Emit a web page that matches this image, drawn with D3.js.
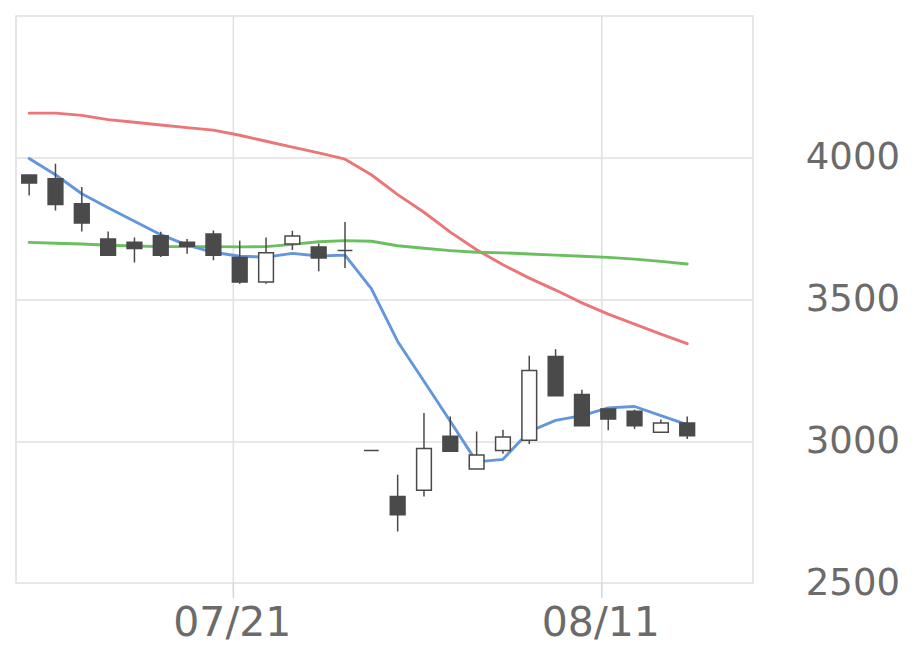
<!DOCTYPE html>
<html>
<head>
<meta charset="utf-8">
<script src="https://cdn.jsdelivr.net/npm/d3@7"></script>
<style>
  html, body { margin: 0; padding: 0; background: #ffffff; }
  svg { display: block; }
</style>
</head>
<body>
<svg id="chart" width="920" height="669"></svg>
<script>
// ---- data ----
const dates = ["07/09","07/12","07/13","07/14","07/15","07/16","07/19","07/20","07/21","07/22",
               "07/26","07/27","07/28","07/29","07/30","08/02","08/03","08/04","08/05","08/06",
               "08/09","08/10","08/11","08/12","08/13","08/16","08/17","08/18"];
const openV  = [3940,3927,3839,3715,3703,3726,3703,3732,3650,3563,3697,3687,3674,2970,2808,2830,3020,2905,2970,3006,3301,3167,3116,3108,3034,3067];
const highV  = [3940,3980,3898,3741,3720,3740,3715,3745,3709,3720,3744,3699,3775,2970,2885,3102,3090,3037,3043,3304,3327,3184,3116,3114,3079,3090];
const lowV   = [3868,3815,3741,3658,3632,3651,3663,3640,3557,3557,3676,3601,3613,2970,2685,2808,2967,2905,2959,2993,3163,3057,3041,3046,3034,3011];
const closeV = [3912,3836,3771,3658,3681,3658,3689,3658,3563,3666,3725,3648,3674,2970,2744,2977,2967,2954,3018,3252,3163,3057,3081,3057,3067,3022];
const ma5    = [3998,3941,3874,3825,3777,3730,3693,3668,3654,3651,3664,3655,3658,3540,3354,3214,3073,2930,2939,3037,3076,3093,3120,3125,3093,3061];
const ma25   = [4158,4158,4150,4135,4126,4116,4107,4098,4080,4059,4038,4018,3996,3941,3871,3809,3739,3677,3624,3577,3535,3490,3450,3415,3380,3346];
const ma75   = [3703,3700,3697,3693,3690,3688,3688,3688,3687,3688,3696,3705,3709,3707,3691,3682,3674,3668,3666,3662,3658,3654,3650,3644,3636,3627];
const xTickLabels = ["07/21","08/11"];
const yTickValues = [2500,3000,3500,4000];

// ---- layout ----
const plot = {left: 16, right: 753, top: 16, bottom: 583};
const svg = d3.select("#chart");

const x = d3.scaleBand().domain(dates).range([plot.left, plot.right]).padding(0);
const step = x.step();
const cx = i => x(dates[i]) + step / 2;
const y = d3.scaleLinear().domain([2500, 4500]).range([584, 16]);

// gridlines
const grid = svg.append("g");
grid.selectAll("line.h").data(yTickValues.filter(v => v > 2500)).join("line")
  .attr("x1", plot.left).attr("x2", plot.right)
  .attr("y1", d => y(d)).attr("y2", d => y(d))
  .attr("stroke", "#e0e0e0").attr("stroke-width", 1.5);
grid.selectAll("line.v").data(xTickLabels).join("line")
  .attr("x1", d => x(d) + step * 0.257).attr("x2", d => x(d) + step * 0.257)
  .attr("y1", plot.top).attr("y2", plot.bottom)
  .attr("stroke", "#e0e0e0").attr("stroke-width", 1.5);

// plot border
svg.append("rect")
  .attr("x", plot.left).attr("y", plot.top)
  .attr("width", plot.right - plot.left).attr("height", plot.bottom - plot.top)
  .attr("fill", "none").attr("stroke", "#e0e0e0").attr("stroke-width", 1.5);

// x tick marks
svg.append("g").selectAll("line").data(xTickLabels).join("line")
  .attr("x1", d => x(d) + step * 0.257).attr("x2", d => x(d) + step * 0.257)
  .attr("y1", plot.bottom).attr("y2", plot.bottom + 15)
  .attr("stroke", "#ccd6eb").attr("stroke-width", 1.5);

// x labels
svg.append("g").selectAll("text").data(xTickLabels).join("text")
  .attr("x", d => x(d) + step * 0.257 - 1)
  .attr("y", 636)
  .attr("text-anchor", "middle")
  .attr("font-family", "DejaVu Sans, sans-serif")
  .attr("font-size", 41)
  .attr("fill", "#6b6b6b")
  .text(d => d);

// y labels
svg.append("g").selectAll("text").data(yTickValues).join("text")
  .attr("x", 900)
  .attr("y", d => y(d) - 2)
  .attr("dy", "0.36em")
  .attr("text-anchor", "end")
  .attr("font-family", "DejaVu Sans, sans-serif")
  .attr("font-size", 37)
  .attr("fill", "#6b6b6b")
  .text(d => d);

// moving averages
const lineGen = d3.line().x((d, i) => cx(i)).y(d => y(d));
[[ma25, "#ea7677"], [ma75, "#6abf5e"], [ma5, "#6396db"]].forEach(([arr, col]) => {
  svg.append("path").datum(arr)
    .attr("d", lineGen)
    .attr("fill", "none")
    .attr("stroke", col)
    .attr("stroke-width", 2.9)
    .attr("stroke-linejoin", "round")
    .attr("stroke-linecap", "round");
});

// candles
const candleColor = "#4a4a4a";
const bodyW = step * 0.56;
const cg = svg.append("g");
openV.forEach((o, i) => {
  const c = closeV[i], h = highV[i], l = lowV[i];
  const xc = cx(i);
  if (h !== l) {
    cg.append("line")
      .attr("x1", xc).attr("x2", xc)
      .attr("y1", y(h)).attr("y2", y(l))
      .attr("stroke", candleColor).attr("stroke-width", 1.5);
  }
  const top = y(Math.max(o, c)), bot = y(Math.min(o, c));
  const bull = c > o;
  cg.append("path")
    .attr("d", `M${xc - bodyW / 2},${top}H${xc + bodyW / 2}V${bot}H${xc - bodyW / 2}Z`)
    .attr("fill", bull ? "#ffffff" : candleColor)
    .attr("stroke", candleColor)
    .attr("stroke-width", 1.5);
});
</script>
</body>
</html>
